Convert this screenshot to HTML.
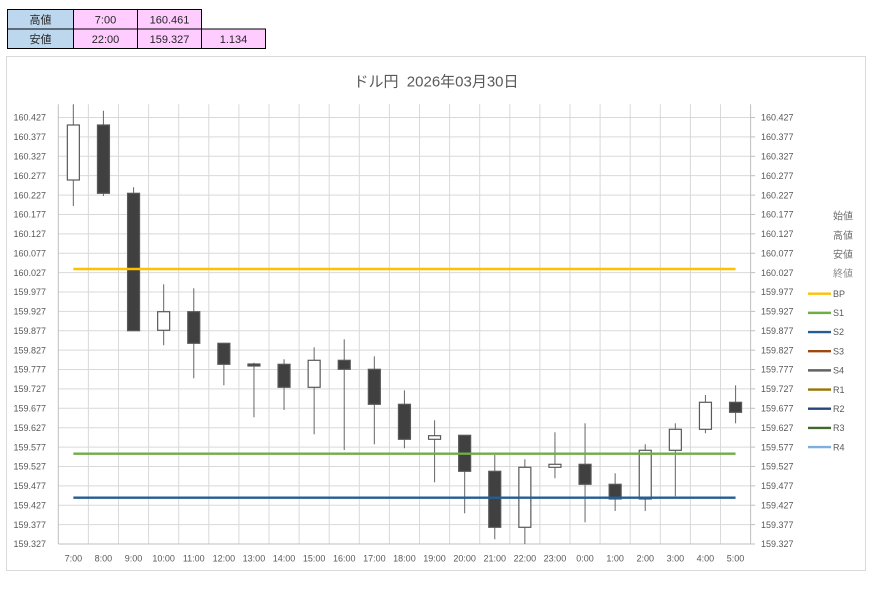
<!DOCTYPE html>
<html><head><meta charset="utf-8">
<style>
html,body{margin:0;padding:0;background:#fff;}
body{width:883px;height:600px;overflow:hidden;font-family:"Liberation Sans","Noto Sans CJK JP",sans-serif;}
svg{display:block;}
</style></head>
<body>
<svg id="s" width="883" height="600" viewBox="0 0 883 600" xmlns="http://www.w3.org/2000/svg" font-family="Liberation Sans, Noto Sans CJK JP, sans-serif">
<!-- table -->
<g stroke="#000" stroke-width="1">
<rect x="7.5" y="9.5" width="66" height="19.5" fill="#BDD7EE"/>
<rect x="73.5" y="9.5" width="64" height="19.5" fill="#FFCCFF"/>
<rect x="137.5" y="9.5" width="64" height="19.5" fill="#FFCCFF"/>
<rect x="7.5" y="29" width="66" height="19.5" fill="#BDD7EE"/>
<rect x="73.5" y="29" width="64" height="19.5" fill="#FFCCFF"/>
<rect x="137.5" y="29" width="64" height="19.5" fill="#FFCCFF"/>
<rect x="201.5" y="29" width="64" height="19.5" fill="#FFCCFF"/>
</g>
<g font-size="11" fill="#262626" text-anchor="middle">
<text x="40.5" y="23.5">高値</text>
<text x="105.5" y="23.5">7:00</text>
<text x="169.5" y="23.5">160.461</text>
<text x="40.5" y="43">安値</text>
<text x="105.5" y="43">22:00</text>
<text x="169.5" y="43">159.327</text>
<text x="233.5" y="43">1.134</text>
</g>
<!-- chart frame -->
<rect x="6.5" y="56.5" width="859" height="514" fill="#fff" stroke="#d9d9d9" stroke-width="1"/>
<text x="436" y="86.5" font-size="15" fill="#595959" text-anchor="middle">ドル円&#160; 2026年03月30日</text>
<g id="grid" stroke="#d9d9d9" stroke-width="1"></g>
<g id="axes" stroke="#bfbfbf" stroke-width="1"></g>
<g id="ylab" font-size="9" fill="#595959"></g>
<g id="xlab" font-size="9" fill="#595959" text-anchor="middle"></g>
<g id="candles"></g>
<g id="lines" stroke-width="2.4"></g>
<g id="legend" font-size="9" fill="#595959"></g>
</svg>
<script>
(function(){
var NS="http://www.w3.org/2000/svg";
function el(p,t,a,txt){var e=document.createElementNS(NS,t);for(var k in a)e.setAttribute(k,a[k]);if(txt!==undefined)e.textContent=txt;document.getElementById(p).appendChild(e);return e;}
var L=58.3,R=750.6,T=104.3,B=544,W=30.1;
for(var j=1;j<23;j++){var x=L+W*j;el("grid","line",{x1:x,y1:T,x2:x,y2:B});}
for(var k=0;k<23;k++){var y=B-k*19.385;
 if(k>0)el("grid","line",{x1:L,y1:y,x2:R,y2:y});
 var v=(159.327+k*0.05).toFixed(3);
 el("ylab","text",{x:46,y:y+3.2,"text-anchor":"end"},v);
 el("ylab","text",{x:761,y:y+3.2},v);
 el("axes","line",{x1:R,y1:y,x2:R+4.5,y2:y});
}
el("axes","line",{x1:L,y1:T,x2:L,y2:B});
el("axes","line",{x1:R,y1:T,x2:R,y2:B});
el("axes","line",{x1:L,y1:B,x2:R,y2:B});
var labs=["7:00","8:00","9:00","10:00","11:00","12:00","13:00","14:00","15:00","16:00","17:00","18:00","19:00","20:00","21:00","22:00","23:00","0:00","1:00","2:00","3:00","4:00","5:00"];
var c=[
[125,180,104.3,206,1],
[125,193.3,110.7,196,0],
[193.3,330.7,187.3,331,0],
[311.7,330.3,284.3,345.3,1],
[311.7,343.3,288.3,378.3,0],
[343.3,364.3,343.3,385.3,0],
[364,366,362.7,417.3,0],
[364.3,387.3,359.3,410,0],
[360.3,387.3,347.3,434.3,1],
[360.3,369.3,339.3,450,0],
[369.3,404.3,356.3,444.3,0],
[404.3,439.3,390.3,448.3,0],
[435.7,439.3,420.3,482.3,1],
[435.3,471.3,435.3,513.3,0],
[471.3,527.3,455,539.3,0],
[467.3,527.3,459.3,544,1],
[464.3,467.3,432.3,478.3,1],
[464.3,484.3,423.3,522.3,0],
[484.3,499,473.3,511,0],
[450.3,499,444.3,511,1],
[429.3,450.3,423.3,496.3,1],
[402.3,429.3,395,433.3,1],
[402.3,412.3,385.3,423.3,0]
];
for(var i=0;i<23;i++){
 var cx=L+W*(i+0.5);
 el("xlab","text",{x:cx,y:561.5},labs[i]);
 var d=c[i];
 el("candles","line",{x1:cx,y1:d[2],x2:cx,y2:d[3],stroke:"#737373","stroke-width":1.1});
 el("candles","rect",{x:cx-6,y:d[0],width:12,height:Math.max(d[1]-d[0],1.5),fill:d[4]?"#fff":"#404040",stroke:"#595959","stroke-width":1.2});
}
var x0=L+W*0.5,x1=L+W*22.5;
el("lines","line",{x1:x0,y1:269,x2:x1,y2:269,stroke:"#FFC000"});
el("lines","line",{x1:x0,y1:453.7,x2:x1,y2:453.7,stroke:"#70AD47"});
el("lines","line",{x1:x0,y1:497.7,x2:x1,y2:497.7,stroke:"#255E91"});
var ln=["始値","高値","安値","終値"],ly=[216,235.3,254.5,273.7];
for(var i=0;i<4;i++)el("legend","text",{x:853,y:ly[i]+3.5,"text-anchor":"end","font-size":"10",fill:i==3?"#8c8c8c":"#6f6f6f"},ln[i]);
var lg=[["BP","#FFC000"],["S1","#70AD47"],["S2","#255E91"],["S3","#9E480E"],["S4","#636363"],["R1","#997300"],["R2","#264478"],["R3","#43682B"],["R4","#7CAFDD"]];
for(var i=0;i<9;i++){var y=293.7+i*19.17;
 el("legend","line",{x1:808,y1:y,x2:831,y2:y,stroke:lg[i][1],"stroke-width":2.4});
 el("legend","text",{x:833,y:y+3.2},lg[i][0]);
}
})();
</script>
</body></html>
